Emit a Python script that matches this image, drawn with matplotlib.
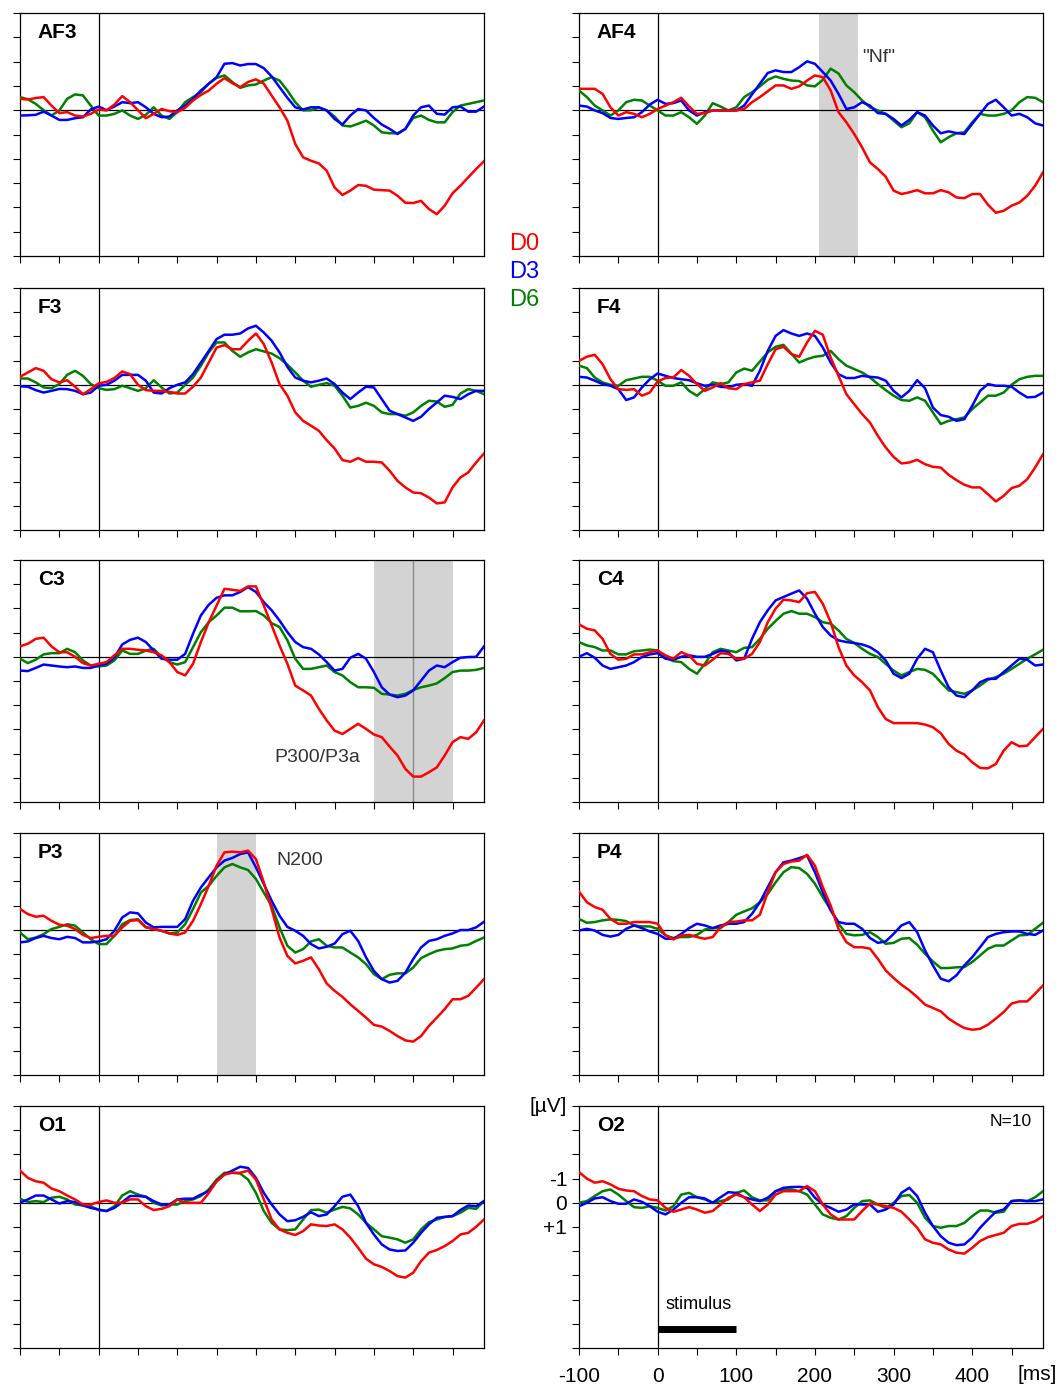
import numpy as np
import matplotlib
matplotlib.use('Agg')
import matplotlib.pyplot as plt

plt.rcParams['font.family'] = ['Liberation Sans', 'DejaVu Sans']

# Time axis in ms (sampled every 10 ms)
t = np.arange(-100, 491, 10)

# Amplitudes in microvolts (negative is drawn upward)
af3_d0 = [-0.47, -0.44, -0.5, -0.54, -0.19, 0.12, 0.08, 0.22, 0.26, 0.15,
          -0.03, 0.01, -0.23, -0.58, -0.33, 0, 0.33, 0.15, -0.05, 0.04,
          0.08, -0.1, -0.4, -0.63, -0.81, -1.09, -1.32, -1.11, -0.95, -1.16,
          -1.27, -1.09, -0.6, -0.12, 0.43, 1.39, 1.94, 2.08, 2.19, 2.49,
          3.18, 3.49, 3.31, 3.08, 3.11, 3.27, 3.29, 3.31, 3.52, 3.81,
          3.82, 3.73, 4.07, 4.28, 3.93, 3.42, 3.11, 2.76, 2.42, 2.1]
af3_d3 = [0.22, 0.21, 0.19, 0.06, 0.22, 0.4, 0.4, 0.33, 0.29, -0.03,
          -0.15, 0, -0.15, -0.33, -0.29, -0.33, -0.12, 0.15, 0.29, 0.26,
          0.01, -0.19, -0.47, -0.81, -1.09, -1.36, -1.91, -1.94, -1.84, -1.9,
          -1.9, -1.73, -1.39, -0.95, -0.51, -0.12, -0.03, -0.12, -0.12, 0.01,
          0.36, 0.59, 0.22, -0.05, 0.01, 0.32, 0.59, 0.77, 0.98, 0.77,
          0.22, -0.12, -0.19, 0.15, 0.18, -0.12, -0.15, 0.06, 0.06, -0.15]
af3_d6 = [-0.54, -0.45, -0.26, 0, 0.22, 0.01, -0.47, -0.65, -0.61, -0.19,
          0.22, 0.22, 0.15, 0.01, 0.22, 0.36, 0.19, -0.12, 0.22, 0.36,
          0.08, -0.33, -0.54, -0.74, -1.09, -1.33, -1.43, -1.16, -0.92, -1.02,
          -1.06, -1.22, -1.36, -1.22, -0.81, -0.33, 0.01, 0, -0.1, 0.01,
          0.26, 0.63, 0.67, 0.56, 0.43, 0.63, 0.91, 0.95, 0.95, 0.77,
          0.32, 0.22, 0.4, 0.5, 0.5, 0.08, -0.19, -0.26, -0.33, -0.4]

af4_d0 = [-0.88, -0.88, -0.88, -0.67, -0.12, 0.22, 0.08, 0.15, 0.29, 0.15,
          -0.05, -0.19, -0.33, -0.51, -0.15, 0.15, 0.12, 0.01, 0.01, 0.01,
          0.01, -0.05, -0.33, -0.54, -0.78, -1.02, -1.02, -0.88, -0.98, -1.22,
          -1.43, -1.36, -0.81, 0.08, 0.5, 0.98, 1.53, 2.15, 2.42, 2.74,
          3.31, 3.45, 3.38, 3.29, 3.42, 3.42, 3.29, 3.38, 3.59, 3.62,
          3.45, 3.45, 3.89, 4.22, 4.14, 3.93, 3.8, 3.52, 3.11, 2.56]
af4_d3 = [-0.19, -0.15, 0.01, 0.12, 0.32, 0.36, 0.32, 0.29, 0.08, -0.23,
          -0.43, -0.26, -0.29, -0.4, 0.01, 0.22, 0.08, 0.01, 0.01, 0.01,
          0.01, -0.19, -0.65, -1.09, -1.53, -1.64, -1.57, -1.57, -1.77, -2.01,
          -1.91, -1.57, -1.22, -0.67, -0.05, -0.12, -0.33, -0.19, 0.12, 0.15,
          0.36, 0.63, 0.4, 0.08, 0.22, 0.63, 0.95, 0.87, 0.94, 0.98,
          0.56, 0.15, -0.26, -0.43, -0.12, 0.22, 0.15, 0.29, 0.54, 0.63]
af4_d6 = [-0.81, -0.54, -0.19, 0.01, 0.22, 0.01, -0.33, -0.43, -0.4, -0.19,
          0.01, 0.22, 0.22, 0.08, 0.29, 0.56, 0.22, -0.29, -0.15, 0.01,
          -0.12, -0.54, -0.74, -0.98, -1.25, -1.39, -1.29, -1.22, -1.2, -1.02,
          -0.98, -1.25, -1.71, -1.51, -1.02, -0.74, -0.4, -0.12, 0.01, 0.15,
          0.43, 0.7, 0.54, 0.08, 0.29, 0.84, 1.32, 1.11, 0.95, 0.91,
          0.5, 0.15, 0.22, 0.22, 0.15, 0.01, -0.33, -0.54, -0.51, -0.33]

f3_d0 = [-0.33, -0.51, -0.69, -0.58, -0.23, -0.1, -0.19, 0.08, 0.39, 0.18,
         -0.06, -0.12, -0.28, -0.55, -0.44, 0, 0.22, 0.25, 0.25, 0.29,
         0.36, 0.36, 0.08, -0.3, -0.92, -1.54, -1.64, -1.47, -1.47, -1.82,
         -2.12, -1.68, -0.92, -0.03, 0.45, 1.14, 1.49, 1.69, 1.9, 2.29,
         2.63, 3.11, 3.18, 3.03, 3.18, 3.18, 3.21, 3.55, 3.97, 4.24,
         4.45, 4.48, 4.66, 4.9, 4.86, 4.24, 3.83, 3.62, 3.21, 2.84]
f3_d3 = [0.06, 0.08, 0.22, 0.32, 0.25, 0.17, 0.18, 0.25, 0.39, 0.32,
         0.04, 0, -0.17, -0.41, -0.41, -0.41, -0.17, 0.32, 0.36, 0.14,
         0, -0.1, -0.44, -0.92, -1.4, -1.89, -2.07, -2.07, -2.12, -2.33,
         -2.44, -2.16, -1.82, -1.34, -0.74, -0.3, -0.17, -0.1, -0.17, -0.26,
         -0.03, 0.32, 0.59, 0.32, 0.08, 0.11, 0.59, 1.07, 1.21, 1.35,
         1.49, 1.32, 1.0, 0.73, 0.45, 0.5, 0.59, 0.39, 0.25, 0.25]
f3_d6 = [-0.26, -0.26, -0.1, 0.11, 0.14, -0.03, -0.41, -0.58, -0.37, -0.03,
         0.14, 0.21, 0.18, 0.04, 0.14, 0.25, 0.14, -0.19, 0.11, 0.36,
         0.32, 0, -0.3, -0.79, -1.34, -1.75, -1.75, -1.4, -1.16, -1.34,
         -1.47, -1.38, -1.29, -1.1, -0.83, -0.51, -0.17, 0.08, 0, -0.07,
         0.04, 0.45, 0.94, 0.87, 0.74, 0.87, 1.14, 1.21, 1.21, 1.28,
         1.14, 0.87, 0.66, 0.69, 0.91, 0.83, 0.36, 0.18, 0.25, 0.39]

f4_d0 = [-0.99, -1.16, -1.24, -0.85, -0.23, 0.18, 0.21, 0.18, 0.45, 0.32,
         -0.14, -0.28, -0.3, -0.61, -0.37, -0.03, 0.25, 0.11, -0.07, 0.14,
         0.18, -0.03, -0.1, -0.17, -0.85, -1.47, -1.57, -1.27, -1.16, -1.75,
         -2.23, -2.07, -1.13, -0.37, 0.39, 0.8, 1.21, 1.56, 2.11, 2.59,
         2.98, 3.25, 3.21, 3.1, 3.28, 3.39, 3.42, 3.72, 3.94, 4.13,
         4.24, 4.24, 4.52, 4.82, 4.59, 4.27, 4.17, 3.9, 3.42, 2.87]
f4_d3 = [-0.33, -0.3, -0.17, -0.03, 0.04, 0.18, 0.63, 0.52, 0.11, -0.23,
         -0.47, -0.37, -0.28, -0.23, -0.19, -0.06, 0.04, 0, 0.08, 0.11,
         0, -0.03, 0.04, -0.58, -1.4, -2.02, -2.26, -2.12, -2.02, -2.12,
         -2.02, -1.54, -0.92, -0.44, -0.28, -0.28, -0.37, -0.33, -0.3, -0.17,
         0.25, 0.52, 0.25, -0.19, 0.14, 0.94, 1.25, 1.32, 1.49, 1.42,
         0.87, 0.25, -0.03, 0.04, 0.04, 0.08, 0.32, 0.52, 0.5, 0.32]
f4_d6 = [-0.79, -0.69, -0.3, -0.1, 0, 0.04, -0.19, -0.26, -0.33, -0.33,
         -0.17, 0.04, 0.04, -0.1, 0.25, 0.45, 0.18, -0.1, -0.03, -0.1,
         -0.51, -0.67, -0.58, -0.96, -1.34, -1.57, -1.65, -1.29, -0.92, -1.06,
         -1.16, -1.2, -1.4, -1.06, -0.79, -0.65, -0.51, -0.3, -0.03, 0.22,
         0.45, 0.63, 0.66, 0.52, 0.66, 1.14, 1.62, 1.49, 1.42, 1.35,
         1.0, 0.73, 0.45, 0.45, 0.32, 0, -0.23, -0.33, -0.37, -0.37]

c3_d0 = [-0.43, -0.54, -0.74, -0.79, -0.43, -0.19, -0.19, 0, 0.26, 0.36,
         0.29, 0.22, -0.06, -0.33, -0.33, -0.29, -0.26, -0.19, -0.06, 0.22,
         0.63, 0.77, 0.29, -0.61, -1.43, -2.12, -2.81, -2.77, -2.72, -2.91,
         -2.91, -2.12, -1.3, -0.47, 0.29, 1.19, 1.39, 1.6, 2.15, 2.63,
         3.05, 3.19, 2.98, 2.77, 2.98, 3.21, 3.32, 3.71, 4.08, 4.63,
         4.95, 4.95, 4.77, 4.57, 4.08, 3.53, 3.32, 3.39, 3.12, 2.63]
c3_d3 = [0.57, 0.59, 0.46, 0.32, 0.36, 0.4, 0.43, 0.4, 0.46, 0.46,
         0.36, 0.29, 0.04, -0.51, -0.7, -0.79, -0.61, -0.26, 0.08, 0.12,
         0.12, -0.12, -0.95, -1.71, -2.15, -2.44, -2.54, -2.54, -2.68, -2.88,
         -2.68, -2.26, -1.92, -1.5, -1.02, -0.61, -0.4, -0.33, -0.1, 0.22,
         0.57, 0.5, 0.04, -0.12, 0.08, 0.63, 1.26, 1.56, 1.67, 1.6,
         1.39, 0.98, 0.57, 0.36, 0.43, 0.22, 0.04, 0.01, 0, -0.43]
c3_d6 = [0.08, 0.26, 0.12, -0.1, -0.15, -0.15, -0.33, -0.19, 0.15, 0.36,
         0.4, 0.36, 0.15, -0.26, -0.12, -0.12, -0.26, -0.33, 0.01, 0.22,
         0.32, 0.22, -0.4, -1.02, -1.43, -1.71, -2.03, -2.03, -1.88, -1.88,
         -1.89, -1.71, -1.39, -1.23, -0.68, 0.08, 0.5, 0.5, 0.43, 0.36,
         0.63, 0.77, 1.05, 1.26, 1.26, 1.28, 1.53, 1.56, 1.6, 1.53,
         1.37, 1.26, 1.19, 1.1, 0.88, 0.63, 0.57, 0.57, 0.54, 0.46]

c4_d0 = [-1.34, -1.16, -1.09, -0.74, -0.12, 0.12, 0.08, -0.1, -0.1, -0.19,
         -0.26, -0.06, 0.08, -0.19, -0.06, 0.29, 0.36, 0.12, -0.15, -0.12,
         0.08, 0.08, -0.12, -0.61, -1.43, -1.99, -2.36, -2.33, -2.26, -2.63,
         -2.68, -2.19, -1.43, -0.4, 0.36, 0.77, 1.05, 1.39, 2.08, 2.57,
         2.74, 2.74, 2.74, 2.74, 2.8, 2.91, 3.16, 3.6, 3.88, 4.04,
         4.36, 4.59, 4.61, 4.43, 3.88, 3.53, 3.7, 3.67, 3.32, 2.98]
c4_d3 = [0, -0.15, 0.04, 0.36, 0.5, 0.43, 0.36, 0.22, 0.01, -0.1,
         -0.15, 0.08, 0.12, 0, -0.06, 0, 0, -0.12, -0.26, -0.19,
         0.15, 0.08, -0.74, -1.43, -1.92, -2.33, -2.47, -2.61, -2.74, -2.4,
         -1.78, -1.23, -0.88, -0.68, -0.61, -0.57, -0.51, -0.4, -0.19, 0.15,
         0.7, 0.88, 0.7, 0.08, -0.33, -0.19, 0.57, 1.26, 1.6, 1.67,
         1.39, 1.05, 0.91, 0.91, 0.63, 0.36, 0.08, 0.12, 0.36, 0.32]
c4_d6 = [-0.61, -0.47, -0.4, -0.26, -0.26, -0.1, -0.1, -0.23, -0.26, -0.3,
         -0.26, 0.04, 0.18, 0.22, 0.5, 0.7, 0.29, -0.19, -0.33, -0.26,
         -0.19, -0.37, -0.4, -0.74, -1.16, -1.48, -1.78, -1.89, -1.78, -1.78,
         -1.64, -1.43, -1.37, -1.09, -0.74, -0.57, -0.33, -0.12, 0.01, 0.29,
         0.57, 0.77, 0.63, 0.5, 0.54, 0.7, 1.05, 1.39, 1.46, 1.53,
         1.39, 1.19, 0.95, 0.84, 0.7, 0.5, 0.29, 0.08, -0.1, -0.29]

p3_d0 = [-0.86, -0.65, -0.54, -0.58, -0.37, -0.21, -0.17, -0.03, 0.21, 0.34,
         0.29, 0.25, 0.25, -0.1, -0.37, -0.4, -0.1, -0.03, 0.04, 0.15,
         0.21, 0.11, -0.37, -1.06, -1.82, -2.65, -3.2, -3.23, -3.2, -3.27,
         -2.92, -1.96, -0.86, 0.32, 1.08, 1.39, 1.28, 1.14, 1.63, 2.22,
         2.52, 2.77, 3.08, 3.35, 3.63, 3.93, 4.0, 4.18, 4.39, 4.57,
         4.62, 4.39, 3.97, 3.63, 3.28, 2.87, 2.87, 2.73, 2.39, 2.04]
p3_d3 = [0.52, 0.48, 0.34, 0.25, 0.34, 0.39, 0.29, 0.34, 0.52, 0.52,
         0.48, 0.39, 0.04, -0.51, -0.72, -0.68, -0.3, -0.1, -0.12, -0.12,
         -0.12, -0.44, -1.2, -1.75, -2.17, -2.58, -2.86, -2.97, -3.13, -3.2,
         -2.58, -1.89, -1.2, -0.58, -0.12, 0.04, 0.25, 0.59, 0.77, 0.7,
         0.57, 0.18, 0.04, 0.46, 1.14, 1.7, 2.04, 2.18, 2.11, 1.77,
         1.21, 0.73, 0.46, 0.39, 0.25, 0.15, 0.01, 0.01, -0.1, -0.33]
p3_d6 = [0.11, 0.39, 0.32, 0.18, -0.03, -0.12, -0.23, -0.17, 0.11, 0.39,
         0.59, 0.59, 0.25, -0.23, -0.4, -0.44, -0.12, -0.03, 0.04, 0.15,
         0.11, -0.23, -0.86, -1.54, -1.82, -2.23, -2.58, -2.72, -2.58, -2.47,
         -2.1, -1.54, -0.99, -0.1, 0.66, 0.94, 0.8, 0.48, 0.39, 0.66,
         0.73, 0.73, 0.94, 1.14, 1.42, 1.83, 2.04, 1.86, 1.8, 1.8,
         1.56, 1.17, 1.01, 0.87, 0.8, 0.77, 0.66, 0.62, 0.46, 0.32]

p4_d0 = [-1.58, -1.14, -0.94, -0.83, -0.45, -0.25, -0.25, -0.32, -0.32, -0.32,
         -0.25, 0.23, 0.4, 0.23, 0.21, 0.3, 0.37, 0.3, -0.11, -0.32,
         -0.34, -0.39, -0.39, -0.62, -1.55, -2.38, -2.72, -2.82, -2.86, -3.1,
         -2.65, -1.76, -1.0, -0.04, 0.51, 0.72, 0.72, 0.78, 1.2, 1.68,
         1.99, 2.27, 2.5, 2.78, 3.09, 3.23, 3.37, 3.67, 3.88, 4.06,
         4.13, 4.09, 3.92, 3.67, 3.4, 3.05, 2.96, 2.96, 2.64, 2.3]
p4_d3 = [0.03, -0.04, 0.03, 0.21, 0.28, 0.21, -0.04, -0.18, -0.07, 0.07,
         0.17, 0.37, 0.37, 0.17, -0.07, -0.25, -0.18, -0.07, -0.18, -0.25,
         -0.25, -0.32, -0.66, -1.14, -1.76, -2.38, -2.79, -2.86, -2.96, -3.07,
         -2.38, -1.55, -0.8, -0.32, -0.25, -0.25, -0.04, 0.34, 0.54, 0.48,
         0.17, -0.18, -0.32, 0.1, 0.85, 1.47, 2.02, 2.13, 1.88, 1.47,
         1.13, 0.72, 0.3, 0.17, 0.1, 0.07, 0.07, 0.17, 0.21, 0.03]
p4_d6 = [-0.45, -0.29, -0.32, -0.39, -0.43, -0.41, -0.36, -0.18, -0.14, -0.14,
         -0.04, 0.23, 0.34, 0.3, 0.3, 0.21, -0.01, -0.07, -0.07, -0.32,
         -0.62, -0.76, -0.89, -1.14, -1.48, -1.96, -2.38, -2.59, -2.55, -2.31,
         -1.9, -1.35, -0.84, -0.25, 0.17, 0.23, 0.21, 0.1, 0.3, 0.58,
         0.54, 0.37, 0.34, 0.62, 0.99, 1.31, 1.58, 1.58, 1.55, 1.54,
         1.33, 1.06, 0.78, 0.65, 0.65, 0.44, 0.23, 0.21, -0.04, -0.29]

o1_d0 = [-1.33, -1.03, -0.89, -0.83, -0.59, -0.48, -0.3, -0.14, 0.07, 0.07,
         -0.03, -0.1, 0, 0, -0.14, -0.14, 0.14, 0.3, 0.25, 0.14,
         -0.14, 0, 0, 0, -0.41, -0.89, -1.17, -1.24, -1.24, -1.33,
         -0.96, -0.14, 0.69, 1.1, 1.24, 1.33, 1.17, 0.89, 0.94, 0.96,
         0.89, 1.1, 1.44, 1.86, 2.31, 2.54, 2.65, 2.82, 3.03, 3.09,
         2.89, 2.41, 2.06, 1.95, 1.79, 1.58, 1.31, 1.24, 0.99, 0.69]
o1_d3 = [0, -0.14, -0.3, -0.3, -0.14, 0.03, -0.07, -0.03, 0.11, 0.21,
         0.28, 0.34, 0.21, -0.03, -0.28, -0.28, -0.25, -0.07, 0.07, 0.07,
         -0.14, -0.17, -0.17, -0.34, -0.48, -0.89, -1.17, -1.33, -1.49, -1.44,
         -1.03, -0.41, 0.07, 0.48, 0.76, 0.72, 0.58, 0.39, 0.55, 0.48,
         0.14, -0.25, -0.34, 0.14, 0.83, 1.31, 1.72, 1.93, 1.99, 1.97,
         1.65, 1.24, 0.89, 0.62, 0.58, 0.55, 0.3, 0.11, 0.14, -0.07]
o1_d6 = [-0.17, -0.03, -0.07, -0.03, -0.21, -0.25, -0.14, 0.07, 0.11, 0.14,
         0.3, 0.34, 0.14, -0.3, -0.48, -0.34, -0.25, 0, 0.11, 0.07,
         0.07, -0.07, -0.14, -0.28, -0.55, -0.96, -1.24, -1.24, -1.21, -0.96,
         -0.41, 0.34, 0.83, 1.1, 1.13, 1.1, 0.69, 0.3, 0.28, 0.41,
         0.28, 0.17, 0.23, 0.48, 0.83, 1.1, 1.38, 1.44, 1.51, 1.65,
         1.51, 1.1, 0.8, 0.69, 0.59, 0.55, 0.41, 0.21, 0.25, -0.07]

o2_d0 = [-1.27, -1.0, -0.83, -0.89, -0.76, -0.58, -0.51, -0.48, -0.28, -0.14,
         -0.1, 0.21, 0.37, 0.28, 0.18, 0.28, 0.41, 0.34, 0.07, -0.21,
         -0.34, -0.23, 0.07, 0.34, 0.07, -0.34, -0.48, -0.48, -0.48, -0.69,
         -0.48, 0.07, 0.48, 0.69, 0.69, 0.69, 0.34, 0.03, 0.07, 0.14,
         0.21, 0.37, 0.69, 1.03, 1.51, 1.65, 1.72, 1.93, 2.06, 2.1,
         1.86, 1.58, 1.42, 1.33, 1.24, 0.96, 0.87, 0.87, 0.76, 0.55]
o2_d3 = [0.14, 0, -0.18, -0.23, -0.07, 0.04, 0.04, -0.14, -0.04, 0.14,
         0.37, 0.48, 0.28, 0, -0.23, -0.23, -0.18, 0, -0.23, -0.44,
         -0.41, -0.23, -0.14, -0.07, -0.21, -0.48, -0.62, -0.65, -0.66, -0.62,
         -0.21, 0.07, 0.21, 0.37, 0.28, 0.07, 0.07, 0.07, 0.37, 0.28,
         0.07, -0.41, -0.62, -0.28, 0.41, 0.96, 1.38, 1.65, 1.75, 1.72,
         1.44, 1.03, 0.69, 0.37, 0.28, -0.07, -0.1, -0.07, -0.07, -0.14]
o2_d6 = [0, -0.07, -0.28, -0.48, -0.55, -0.34, -0.07, 0.18, 0.21, 0.14,
         0.21, 0.32, 0.14, -0.34, -0.41, -0.23, -0.14, 0, -0.07, -0.14,
         -0.41, -0.51, -0.23, -0.1, -0.1, -0.48, -0.55, -0.55, -0.48, -0.34,
         0.07, 0.48, 0.62, 0.69, 0.55, 0.21, -0.07, -0.1, 0.07, 0.21,
         0, -0.28, -0.32, 0, 0.62, 0.96, 1.03, 0.96, 0.96, 0.83,
         0.55, 0.32, 0.32, 0.41, 0.37, -0.07, -0.1, -0.07, -0.23, -0.48]

channels = ['AF3', 'AF4', 'F3', 'F4', 'C3', 'C4', 'P3', 'P4', 'O1', 'O2']
curves = {
    'AF3': (af3_d0, af3_d3, af3_d6), 'AF4': (af4_d0, af4_d3, af4_d6),
    'F3': (f3_d0, f3_d3, f3_d6), 'F4': (f4_d0, f4_d3, f4_d6),
    'C3': (c3_d0, c3_d3, c3_d6), 'C4': (c4_d0, c4_d3, c4_d6),
    'P3': (p3_d0, p3_d3, p3_d6), 'P4': (p4_d0, p4_d3, p4_d6),
    'O1': (o1_d0, o1_d3, o1_d6), 'O2': (o2_d0, o2_d3, o2_d6),
}
conditions = ['D0', 'D3', 'D6']
colors = ['#ff0000', '#0000ff', '#008000']

# Shaded time windows (ms) and their labels
windows = {'AF4': (205, 255), 'C3': (350, 450), 'P3': (150, 200)}
notes = {'AF4': (260, -2.15, '"Nf"'), 'C3': (223, 4.15, 'P300/P3a'),
         'P3': (226, -2.85, 'N200')}

# Panel placement in pixels (figure is 1061 x 1387)
W, H = 1061, 1387
cols_px = [(20, 484), (579, 1043)]
rows_px = [(13, 256), (288, 530), (560, 802), (833, 1075), (1106, 1348)]

fig = plt.figure(figsize=(W / 100, H / 100), dpi=100)

for i, ch in enumerate(channels):
    col, row = i % 2, i // 2
    x0, x1 = cols_px[col]
    y0, y1 = rows_px[row]
    ax = fig.add_axes([x0 / W, 1 - y1 / H, (x1 - x0) / W, (y1 - y0) / H])

    ax.set_xlim(-100, 490)
    ax.set_ylim(6, -4)

    if ch in windows:
        ax.axvspan(*windows[ch], color='#d3d3d3', lw=0, zorder=0)
    if ch == 'C3':
        ax.axvline(400, color='#888888', lw=1, zorder=1)

    ax.axhline(0, color='black', lw=0.9, zorder=1)
    ax.axvline(0, color='black', lw=0.9, zorder=1)

    # draw green, blue, red so that red ends up on top
    for k in [2, 1, 0]:
        ax.plot(t, curves[ch][k], color=colors[k], lw=1.8, zorder=3)

    if ch in notes:
        nx, ny, label = notes[ch]
        ax.text(nx, ny, label, fontsize=14, color='#333333', va='center', ha='left')

    ax.text(0.038, 0.92, ch, transform=ax.transAxes, fontsize=15,
            fontweight='bold', va='center', ha='left')

    ax.set_xticks(range(-100, 451, 50))
    ax.set_yticks(range(-4, 7))
    ax.tick_params(direction='out', length=5, width=0.8, labelsize=15)
    ax.tick_params(axis='x', pad=9)
    for s in ax.spines.values():
        s.set_linewidth(0.9)

    if ch == 'O2':
        ax.set_xticklabels([str(v) if v % 100 == 0 else '' for v in range(-100, 451, 50)])
        ax.set_yticklabels([{-1: '-1', 0: '0', 1: '+1'}.get(v, '') for v in range(-4, 7)])
        ax.text(482, -0.11, '[ms]', transform=ax.get_xaxis_transform(),
                fontsize=15, ha='center', va='center')
        ax.text(-0.067, 1.0, '[µV]', transform=ax.transAxes, fontsize=15,
                ha='center', va='center')
        ax.text(0.93, 0.935, 'N=10', transform=ax.transAxes, fontsize=12.5,
                ha='center', va='center')
        # stimulus bar 0-100 ms
        ax.plot([0, 100], [5.2, 5.2], color='black', lw=5, solid_capstyle='butt')
        ax.text(10, 4.2, 'stimulus', fontsize=13, ha='left', va='center')
    else:
        ax.set_xticklabels([])
        ax.set_yticklabels([])

# Condition legend between the columns
for k, name in enumerate(conditions):
    fig.text(524 / W, 1 - (244 + 28 * k) / H, name, color=colors[k],
             fontsize=17, ha='center', va='center')

fig.savefig('out.png', dpi=100)
